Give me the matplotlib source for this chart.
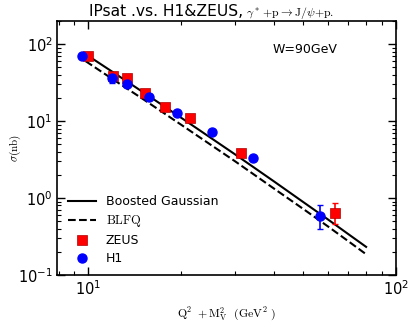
import numpy as np
import matplotlib
matplotlib.use("Agg")
import matplotlib.pyplot as plt

plt.rcParams['mathtext.fontset'] = 'cm'

# model curves (Q^2 + M_V^2 in GeV^2, sigma in nb)
curve_x = [9.8, 12, 15, 20, 30, 40, 50, 60, 70, 80]
bg_sigma = [74, 43.4, 24, 11.1, 3.69, 1.66, 0.885, 0.53, 0.34, 0.232]
blfq_sigma = [60, 35, 19.5, 9.0, 3.0, 1.34, 0.72, 0.43, 0.275, 0.186]

# ZEUS data
zeus_x = [9.95, 12.0, 13.4, 15.3, 17.8, 21.4, 31.4, 63.3]
zeus_sigma = [70, 38.6, 36.6, 23.4, 15.3, 11.1, 3.85, 0.64]
zeus_lo = [3, 2, 2, 1.2, 0.8, 0.6, 0.3, 0.185]
zeus_hi = [3, 2, 2, 1.2, 0.8, 0.6, 0.3, 0.23]

# H1 data
h1_x = [9.54, 11.9, 13.4, 15.7, 19.4, 25.2, 34.3, 56.7]
h1_sigma = [70, 36, 30.6, 20.8, 12.9, 7.28, 3.32, 0.58]
h1_lo = [3, 5, 1.5, 1.5, 0.8, 0.4, 0.2, 0.18]
h1_hi = [3, 1.5, 1.5, 1.5, 0.8, 0.4, 0.2, 0.24]

fig = plt.figure(figsize=(4.15, 3.22), dpi=100)
ax = fig.add_axes([0.137, 0.146, 0.817, 0.789])

ax.plot(curve_x, bg_sigma, color='black', lw=1.5, label='Boosted Gaussian')
ax.plot(curve_x, blfq_sigma, color='black', lw=1.5, ls='--', label=r'$\rm BLFQ$')
ax.errorbar(zeus_x, zeus_sigma, yerr=[zeus_lo, zeus_hi], fmt='none',
            ecolor='red', elinewidth=1.2, capsize=2)
ax.errorbar(h1_x, h1_sigma, yerr=[h1_lo, h1_hi], fmt='none',
            ecolor='blue', elinewidth=1.2, capsize=2)
ax.plot(zeus_x, zeus_sigma, 's', color='red', mec='#b00000', mew=0.5, ms=6.5,
        label='ZEUS')
ax.plot(h1_x, h1_sigma, 'o', color='blue', mec='blue', ms=6.5, label='H1')

ax.set_xscale('log')
ax.set_yscale('log')
ax.set_xlim(7.9, 100)
ax.set_ylim(0.1, 200)

ax.tick_params(which='both', direction='in', top=True, right=True, labelsize=10.5, pad=3)
ax.tick_params(which='major', length=6, width=1)
ax.tick_params(which='minor', length=3, width=0.8)
for s in ax.spines.values():
    s.set_linewidth(1.2)

# title: plain part, then the math part right after it
t1 = ax.text(0.094, 1.02, 'IPsat .vs. H1&ZEUS,', transform=ax.transAxes,
             fontsize=11.2, ha='left', va='baseline')
ax.annotate(r'$\ \gamma^*\,{+}{\rm p}{\to}{\rm J}/\psi{+}{\rm p.}$', xy=(1, 0.2),
            xycoords=t1, fontsize=8.5, ha='left', va='baseline')

ax.set_xlabel(r'$\rm Q^2\ + M_V^2\ \ (GeV^2\ )$', fontsize=8.5)
ax.set_ylabel(r'$\sigma\rm (nb)$', fontsize=8)
ax.xaxis.set_label_coords(0.5, -0.12)
ax.yaxis.set_label_coords(-0.10, 0.5)
ax.text(0.637, 0.875, 'W=90GeV', transform=ax.transAxes, fontsize=9)

ax.legend(loc='lower left', frameon=False, fontsize=9,
          numpoints=1, handlelength=2.2, handletextpad=0.8, labelspacing=0.4,
          bbox_to_anchor=(0.0, -0.005))

fig.savefig('out.png', dpi=100)
